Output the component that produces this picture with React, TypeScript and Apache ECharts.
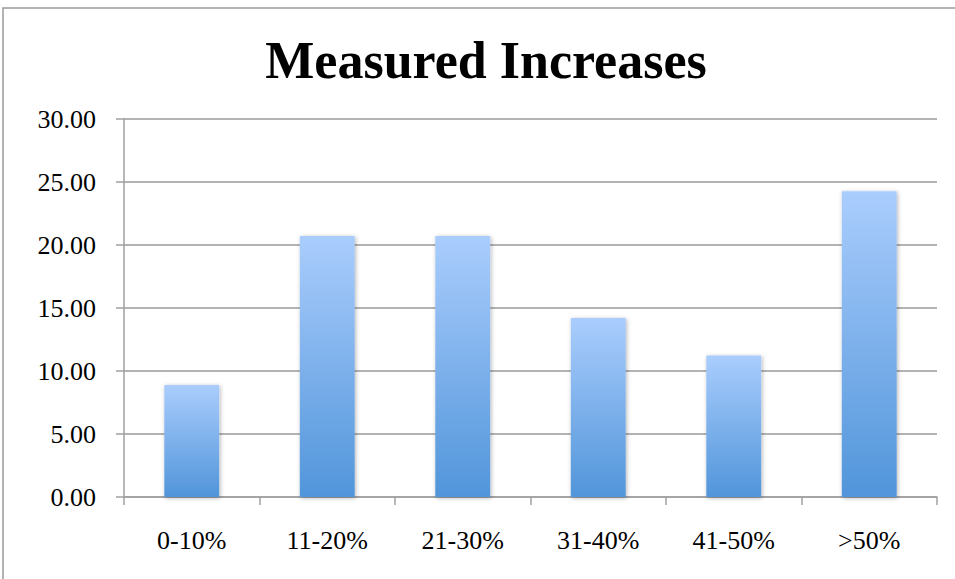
import React, { useEffect, useRef } from "react";
import * as echarts from "echarts";

const title = "Measured Increases";
const categories = ["0-10%", "11-20%", "21-30%", "31-40%", "41-50%", ">50%"];
const values = [8.88, 20.71, 20.71, 14.2, 11.24, 24.26];
const yTicks = { min: 0, max: 30, interval: 5 };

export default function App() {
  const ref = useRef<HTMLDivElement>(null);
  useEffect(() => {
    if (!ref.current) return;
    const chart = echarts.init(ref.current, null, { renderer: "svg" });
    const serif = "'Liberation Serif', 'DejaVu Serif', serif";
    chart.setOption({
      animation: false,
      backgroundColor: "#ffffff",
      title: {
        text: title,
        left: 481,
        top: 29,
        textAlign: "center",
        textStyle: { fontFamily: serif, fontWeight: "bold", fontSize: 52, color: "#000" },
      },
      graphic: [
        {
          type: "rect",
          shape: { x: 3, y: 8, width: 1000, height: 700 },
          style: { fill: "none", stroke: "#9a9a9a", lineWidth: 1.5 },
          silent: true,
        },
      ],
      grid: { left: 124, right: 18, top: 119, bottom: 82, containLabel: false },
      xAxis: {
        type: "category",
        data: categories,
        axisLine: { show: true, lineStyle: { color: "#a0a0a0", width: 1.5 } },
        axisTick: { show: true, length: 8, lineStyle: { color: "#a0a0a0", width: 1.5 } },
        axisLabel: { fontFamily: serif, fontSize: 26, color: "#000", margin: 30 },
        splitLine: { show: false },
      },
      yAxis: {
        type: "value",
        min: yTicks.min,
        max: yTicks.max,
        interval: yTicks.interval,
        axisLine: { show: true, lineStyle: { color: "#a0a0a0", width: 1.5 } },
        axisTick: { show: true, length: 8, lineStyle: { color: "#a0a0a0", width: 1.5 } },
        axisLabel: {
          fontFamily: serif,
          fontSize: 26,
          color: "#000",
          margin: 28,
          formatter: (v: number) => v.toFixed(2),
        },
        splitLine: { show: true, lineStyle: { color: "#9a9a9a", width: 1.5 } },
      },
      series: [
        {
          type: "bar",
          data: values,
          barWidth: "40.5%",
          itemStyle: {
            color: new echarts.graphic.LinearGradient(0, 0, 0, 1, [
              { offset: 0, color: "#aacdfd" },
              { offset: 1, color: "#5195da" },
            ]),
            shadowColor: "rgba(0,0,0,0.3)",
            shadowBlur: 4,
            shadowOffsetX: 1,
            shadowOffsetY: 1,
          },
        },
      ],
    });
    return () => chart.dispose();
  }, []);
  return (
    <div
      ref={ref}
      style={{ position: "absolute", left: 0, top: 0, width: 955, height: 579 }}
    />
  );
}
